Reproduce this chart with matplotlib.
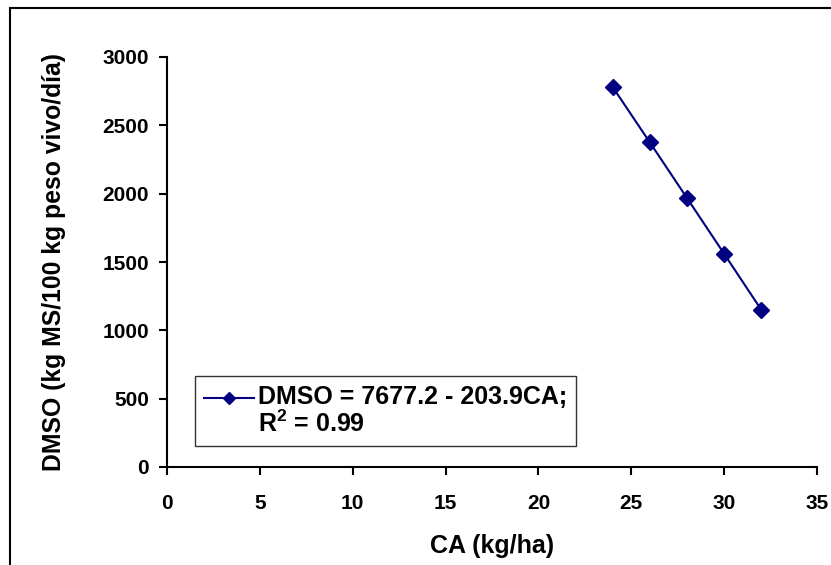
import matplotlib
matplotlib.use("Agg")
import matplotlib.pyplot as plt
from matplotlib.patches import Rectangle
from matplotlib.legend_handler import HandlerLine2D

ca = [24, 26, 28, 30, 32]
dmso = [2780, 2375, 1968, 1560, 1150]
xticks = [0, 5, 10, 15, 20, 25, 30, 35]
yticks = [0, 500, 1000, 1500, 2000, 2500, 3000]
legend_label = "DMSO = 7677.2 - 203.9CA;\nR$^\\mathbf{2}$ = 0.99"

plt.rcParams['font.family'] = ['Liberation Sans', 'DejaVu Sans']
plt.rcParams['mathtext.fontset'] = 'custom'
plt.rcParams['mathtext.rm'] = 'Liberation Sans:bold'
plt.rcParams['mathtext.bf'] = 'Liberation Sans:bold'


class TopLineHandler(HandlerLine2D):
    def __init__(self, offset, **kw):
        super().__init__(**kw)
        self.offset = offset

    def create_artists(self, legend, orig_handle, xdescent, ydescent, width,
                       height, fontsize, trans):
        arts = super().create_artists(legend, orig_handle, xdescent, ydescent,
                                      width, height, fontsize, trans)
        for a in arts:
            y = a.get_ydata()
            a.set_ydata([v + self.offset for v in y])
        return arts


fig = plt.figure(figsize=(8.31, 5.65), dpi=100)
fig.patches.append(Rectangle((10/831, -0.1), 1.2, 1.1 - 8/565, transform=fig.transFigure,
                             fill=False, edgecolor='black', linewidth=1.5, figure=fig))
ax = fig.add_axes([167/831, 98/565, 650/831, 410/565])

line, = ax.plot(ca, dmso, color='#000080', marker='D', markersize=8, linewidth=1.5,
                label=legend_label)

ax.set_xlim(0, 35)
ax.set_ylim(0, 3000)
ax.set_xticks(xticks)
ax.set_yticks(yticks)
for s in ['top', 'right']:
    ax.spines[s].set_visible(False)
for s in ['left', 'bottom']:
    ax.spines[s].set_linewidth(1.5)
ax.tick_params(direction='out', length=5.5, width=1.5, labelsize=15)
ax.tick_params(axis='y', pad=7.5)
ax.tick_params(axis='x', pad=14)
for lab in ax.get_xticklabels() + ax.get_yticklabels():
    lab.set_fontweight('bold')

ax.set_xlabel("CA (kg/ha)", fontsize=18, fontweight='bold', labelpad=15)
ax.set_ylabel("DMSO (kg MS/100 kg peso vivo/día)", fontsize=17.8, fontweight='bold', labelpad=26)

leg = ax.legend(loc='lower left', bbox_to_anchor=(28/650, 21/410), frameon=True,
                fancybox=False, prop={'weight': 'bold', 'size': 18},
                handlelength=2.0, borderpad=0.35, handletextpad=0.15, borderaxespad=0,
                markerscale=0.75,
                handler_map={line: TopLineHandler(offset=10)})
leg.get_frame().set_edgecolor('black')
leg.get_frame().set_linewidth(1.0)
for t in leg.get_texts():
    t.set_linespacing(1.1)

fig.savefig("out.png", dpi=100)
